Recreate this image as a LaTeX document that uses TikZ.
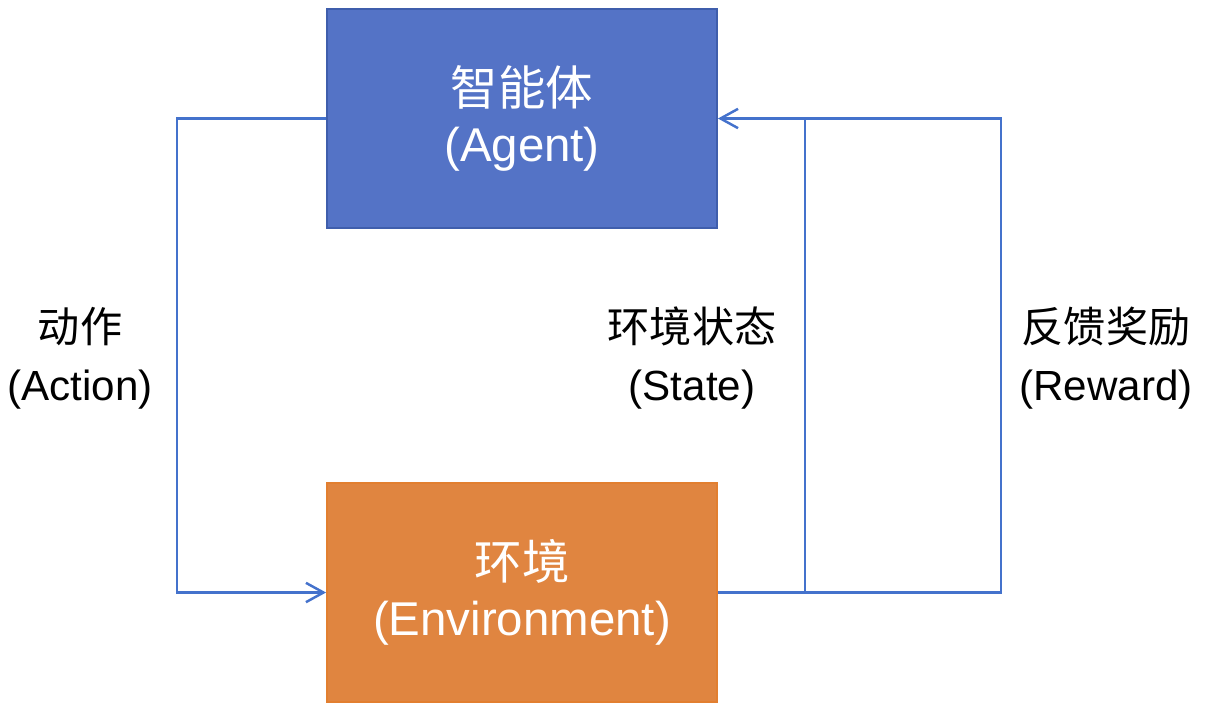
\documentclass[tikz,border=0pt]{standalone}
\usepackage{fontspec}
\setmainfont{Liberation Sans}
\newfontfamily\cjk{Noto Sans CJK SC}
\usetikzlibrary{arrows.meta}
\definecolor{agentblue}{RGB}{84,115,198}
\definecolor{agentedge}{RGB}{63,94,172}
\definecolor{envorange}{RGB}{224,133,64}
\definecolor{envedge}{RGB}{226,127,48}
\definecolor{linkblue}{RGB}{68,114,204}

\begin{document}
\begin{tikzpicture}[x=0.02cm, y=-0.02cm,
    box/.style={rectangle, line width=1.1pt, minimum width=7.8cm, minimum height=4.38cm,
      align=center, text=white, font=\fontsize{27}{32}\selectfont},
    link/.style={linkblue, line width=1.4pt, line join=miter},
    tip/.style={-{Straight Barb[length=10pt,width=11pt]}},
    lab/.style={align=center, font=\fontsize{24}{33}\selectfont}]
          \useasboundingbox (0, 0) rectangle (1206, 714);

          % Boxes
          \node [box, fill=agentblue, draw=agentedge] (agent) at (522, 118.5)
            {{\cjk 智能体}\\(Agent)};
          \node [box, fill=envorange, draw=envedge] (env) at (522, 592.5)
            {{\cjk 环境}\\(Environment)};

          % Corners of the loops
          \coordinate (ax) at (177, 0);
          \coordinate (sx) at (805, 0);
          \coordinate (rx) at (1001, 0);

          \draw [link, tip] (agent.west) -- (ax |- agent.west) -- (ax |- env.west)
            -- (env.west);
          \draw [link, tip] (env.east) -- (sx |- env.east) -- (sx |- agent.east)
            -- (agent.east);
          \draw [link] (sx |- env.east) -- (rx |- env.east) -- (rx |- agent.east)
            -- (sx |- agent.east);

          % Labels
          \node [lab] (action) at (80, 358) {{\cjk 动作}\\(Action)};
          \node [lab] (state) at (692, 358) {{\cjk 环境状态}\\(State)};
          \node [lab] (reward) at (1106, 358) {{\cjk 反馈奖励}\\(Reward)};
        \end{tikzpicture}
\end{document}
